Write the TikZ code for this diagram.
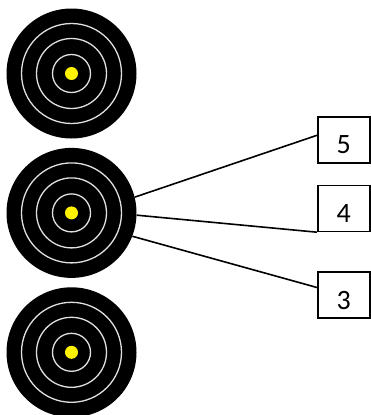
\documentclass[tikz,border=0pt]{standalone}
\usepackage{fontspec}
\setmainfont{Carlito}
\usetikzlibrary{positioning}
\tikzset{
    target/.style={
        circle,
        fill=black,
        minimum size=130pt,
        inner sep=0pt
    },
    ring/.style={draw=white!88!black, line width=1.3pt},
    bull/.style={circle, fill=yellow, minimum size=13pt, inner sep=0pt},
    scorebox/.style={
        rectangle,
        draw=black, line width=1.6pt,
        inner sep=0pt,
        text width=52pt,
        align=center,
        text height=37pt,
        text depth=9pt,
        font=\fontsize{28}{28}\selectfont
    },
    line/.style={draw, line width=1.6pt}
}
\begin{document}
\begin{tikzpicture}[x=1pt, y=1pt]
    \useasboundingbox (0,0) rectangle (370,-415);
    \node[target] (top) at (71.5,-73.5) {};
    \node[target, below=9pt of top] (mid) {};
    \node[target, below=9pt of mid] (bot) {};
    \foreach \t in {top,mid,bot} {
        \foreach \r in {50,35,19}
            \draw[ring] (\t) circle (\r pt);
        \node[bull] (\t-bull) at (\t) {};
    }
    \node[scorebox, anchor=north west] (five) at (317,-116) {5};
    \node[scorebox, below=21pt of five] (four) {4};
    \node[scorebox, below=39pt of four] (three) {3};
    \draw[line] (mid.14) -- ([yshift=4.5pt]five.west);
    \draw[line] (mid.-2) -- (four.south west);
    \draw[line] (mid.-21) -- ([yshift=7.5pt]three.west);
\end{tikzpicture}
\end{document}
